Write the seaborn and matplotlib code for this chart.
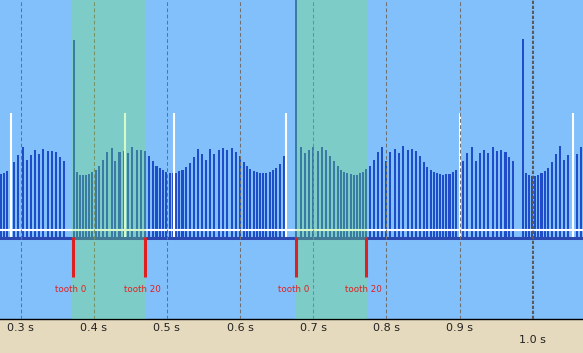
import numpy as np
import pandas as pd
import seaborn as sns
import matplotlib.pyplot as plt

# tooth-to-tooth intervals in ms (60-2 crank wheel)
rev_a = [4.26, 4.32, 4.46, 4.73, 5.07, 5.54, 6.08, 5.20, 5.54, 5.88, 5.61, 5.95,
         5.81, 5.81, 5.74, 5.41, 5.14]
gap_1 = 13.31
rev_b = [4.39, 4.19, 4.19, 4.19, 4.26, 4.39, 4.53, 4.80,
         5.20, 5.74, 6.01, 5.14, 5.74, 5.81, 5.68, 6.08, 5.88, 5.88, 5.81,
         5.47, 5.14, 4.80, 4.66, 4.53, 4.39, 4.32, 4.32, 4.32, 4.46, 4.53, 4.73, 5.00, 5.41,
         5.95, 5.61, 5.20, 5.95, 5.61, 5.88, 6.01, 5.88, 6.01, 5.74, 5.47, 5.07, 4.80,
         4.59, 4.46, 4.39, 4.32, 4.32, 4.32, 4.39, 4.53, 4.66, 4.93, 5.47]
gap_2 = 16.55
rev_c = [6.08, 5.68, 5.88, 6.08, 5.81, 6.08, 5.88, 5.47, 5.14, 4.80, 4.53, 4.39,
         4.32, 4.26, 4.19, 4.19, 4.32, 4.39, 4.59, 4.80, 5.20, 5.74, 6.08,
         5.14, 5.74, 5.95, 5.68, 6.15, 5.88, 5.95, 5.81, 5.47, 5.07, 4.73, 4.53,
         4.39, 4.32, 4.26, 4.19, 4.26, 4.26, 4.39, 4.53, 4.80, 5.14, 5.68, 6.08, 5.14, 5.68,
         5.88, 5.68, 6.08, 5.81, 5.88, 5.74, 5.41, 5.14]
gap_3 = 13.38
rev_d = [4.32, 4.19, 4.12, 4.12, 4.19, 4.32, 4.46, 4.66, 5.07, 5.61, 6.15, 5.20,
         5.54, 5.95, 5.61, 6.08]

first_tooth_s = 0.27294   # time of the first visible tooth

# cam / sync pulses (white)
sync_s = [0.2870, 0.4424, 0.5102, 0.6624, 0.9002, 1.0547]
sync_ms = 8.36

# tooth markers and the highlighted windows
mark_s = [0.3717, 0.4702, 0.6765, 0.7722]
mark_lbl = ['tooth 0', 'tooth 20', 'tooth 0', 'tooth 20']
window_s = [(0.3704, 0.4715), (0.6752, 0.7736)]

minor_ticks = [0.3, 0.4, 0.5, 0.6, 0.7, 0.8, 0.9]
major_ticks = [1.0]

intervals = np.array(rev_a + [gap_1] + rev_b + [gap_2] + rev_c + [gap_3] + rev_d)
times = first_tooth_s + np.concatenate([[0], np.cumsum(intervals[1:])]) / 1000.0
df = pd.DataFrame({'t': times, 'ms': intervals})

plt.rcParams['font.family'] = ['DejaVu Sans']
fig = plt.figure(figsize=(5.83, 3.53), dpi=100, facecolor='#e6dabe')
ax = fig.add_axes([0, 1 - 319 / 353, 1, 319 / 353])
ax.set_facecolor('#82c0fc')

sns.barplot(data=df, x='t', y='ms', native_scale=True, orient='x', color='#1f4cc8',
            saturation=1, width=0.68, errorbar=None, linewidth=0, ax=ax, zorder=2)

# baseline + white reference line
ax.axhline(-0.05, color='#2a48b0', lw=2.2, zorder=3)
ax.axhline(0.44, color='white', lw=1.5, zorder=3)

# sync pulses
ax.vlines(sync_s, 0, sync_ms, color='white', lw=1.5, zorder=3)

# time grid
for t in minor_ticks:
    ax.axvline(t, color='#707070', lw=0.75, ls=(0, (3.6, 2.3)), zorder=4)
for t in major_ticks:
    ax.axvline(t, color='#5a5a5a', lw=1.5, ls=(0, (1.6, 0.8)), zorder=4)

# highlighted tooth windows
for lo, hi in window_s:
    ax.axvspan(lo, hi, color='#78e850', alpha=0.3, lw=0, zorder=5)

# tooth markers
ax.vlines(mark_s, -2.7, 0, color='#dd2020', lw=2.2, zorder=6)
for t, lbl in zip(mark_s, mark_lbl):
    ax.text(t - 0.003, -3.55, lbl, color='#e02020', fontsize=6.3, ha='center', va='center', zorder=6)

ax.set_xlim(0.27198, 1.06876)
ax.set_ylim(-5.54, 16.01)
ax.set_xlabel('')
ax.set_ylabel('')
ax.set_yticks([])
ax.set_xticks(major_ticks)
ax.set_xticklabels(['%.1f s' % t for t in major_ticks])
ax.set_xticks(minor_ticks, minor=True)
ax.set_xticklabels(['%.1f s' % t for t in minor_ticks], minor=True)
ax.tick_params(axis='x', which='both', length=0, labelsize=8, labelcolor='#222222')
ax.tick_params(axis='x', which='minor', pad=3)
ax.tick_params(axis='x', which='major', pad=11.5)
for s in ['top', 'left', 'right']:
    ax.spines[s].set_visible(False)
ax.spines['bottom'].set_color('black')
ax.spines['bottom'].set_linewidth(1)

fig.savefig('out.png', dpi=100, facecolor=fig.get_facecolor())
